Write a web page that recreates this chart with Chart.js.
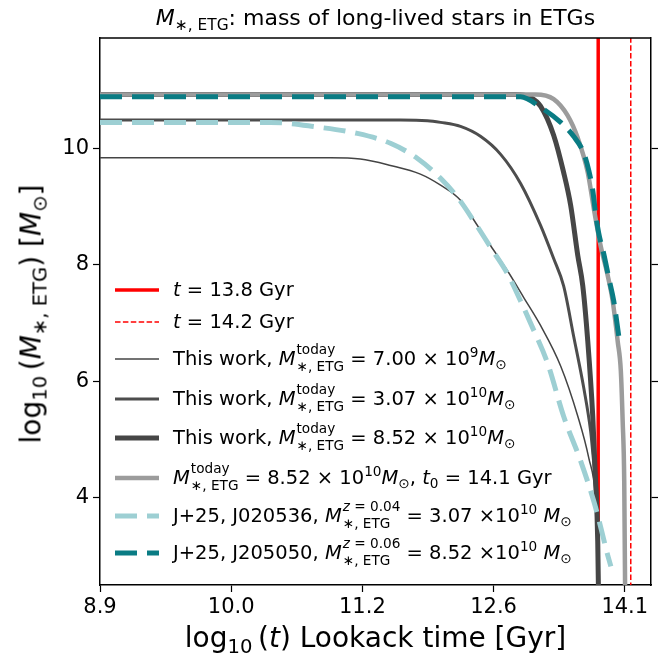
<!DOCTYPE html>
<html>
<head>
<meta charset="utf-8">
<script src="https://cdn.jsdelivr.net/npm/chart.js@4.4.0/dist/chart.umd.min.js"></script>
<style>
  body { margin: 0; background: #fff; font-family: "DejaVu Sans", sans-serif; color: #000; }
  #wrap { position: relative; width: 670px; height: 661px; }
  #chart { position: absolute; left: 0; top: 0; }
  .txt { position: absolute; white-space: nowrap; line-height: normal; }
  i { font-style: italic; }
  .sb { font-size: 0.7em; vertical-align: -0.3em; line-height: 0; }
  .sp { font-size: 0.7em; vertical-align: 0.6em; line-height: 0; }
  .ss { display: inline-flex; flex-direction: column; font-size: 0.7em; line-height: 1.2; vertical-align: 0.8em; margin-left: 1px; }
  .th { margin-left: 0.2em; }
  #title { left: 100px; width: 551px; text-align: center; top: 5px; font-size: 22px; }
  #xtitle { left: 100px; width: 551px; text-align: center; top: 621px; font-size: 28px; }
  #ytitle { left: 31px; top: 314px; font-size: 28px; transform: translate(-50%, -50%) rotate(-90deg); }
  .leg { position: absolute; left: 173px; font-size: 19.5px; line-height: 40px; white-space: nowrap; }
</style>
</head>
<body>
<div id="wrap">
  <canvas id="chart" width="670" height="661"></canvas>
  <div class="txt" id="title"><i>M</i><span class="sb">∗, ETG</span>: mass of long-lived stars in ETGs</div>
  <div class="txt" id="xtitle">log<span class="sb">10</span><span class="th"></span>(<i>t</i>) Lookack time [Gyr]</div>
  <div class="txt" id="ytitle">log<span class="sb">10</span><span class="th"></span>(<i>M</i><span class="sb">∗, ETG</span>) [<i>M</i><span class="sb">⊙</span>]</div>
</div>
<script>
// axis ticks (x is log10 of lookback time)
const xTickLogs = [0.95, 1.0, 1.05, 1.1, 1.15];
const xTickLabels = ["8.9", "10.0", "11.2", "12.6", "14.1"];
const yTicks = [4, 6, 8, 10];

// vertical markers, Gyr
const markerAges = [13.8, 14.2];

// This work, M_today = 7.00e9
const lowT = [0.95, 1.0378, 1.0492, 1.0607, 1.0721, 1.0798, 1.0874, 1.0931, 1.0989, 1.1053, 1.1115, 1.1179, 1.1256, 1.1321, 1.1363, 1.1389, 1.1397, 1.1401];
const lowM = [9.84, 9.84, 9.82, 9.71, 9.56, 9.37, 9.11, 8.73, 8.33, 7.90, 7.44, 6.96, 6.26, 5.40, 4.68, 3.99, 3.25, 2.0];

// This work, M_today = 3.07e10
const midT = [0.95, 1.0645, 1.0748, 1.0798, 1.0874, 1.0950, 1.1027, 1.1103, 1.1179, 1.1229, 1.1267, 1.1305, 1.1344, 1.1370, 1.1385, 1.1397, 1.1401];
const midM = [10.49, 10.49, 10.48, 10.45, 10.38, 10.21, 9.90, 9.40, 8.68, 8.11, 7.64, 6.78, 5.88, 5.14, 4.45, 3.68, 2.0];

// This work, M_today = 8.52e10
const highT = [0.95, 1.1084, 1.1141, 1.1179, 1.1229, 1.1267, 1.1294, 1.1321, 1.1340, 1.1359, 1.1378, 1.1389, 1.1397, 1.1401];
const highM = [10.93, 10.93, 10.88, 10.73, 10.23, 9.59, 9.02, 8.16, 7.64, 6.69, 5.40, 4.28, 3.25, 2.0];

// M_today = 8.52e10, t0 = 14.1 Gyr
const shiftT = [0.95, 1.1160, 1.1229, 1.1282, 1.1321, 1.1359, 1.1382, 1.1408, 1.1435, 1.1454, 1.1473, 1.1485, 1.1492, 1.1498, 1.1502];
const shiftM = [10.93, 10.93, 10.85, 10.57, 10.18, 9.59, 8.97, 8.33, 7.82, 7.38, 6.69, 6.18, 5.32, 4.28, 2.0];

// J+25, J020536
const j0205T = [0.95, 1.0149, 1.0328, 1.0481, 1.0607, 1.0710, 1.0798, 1.0863, 1.0924, 1.0989, 1.1053, 1.1103, 1.1141, 1.1206, 1.1267, 1.1332, 1.1382, 1.1408, 1.1431, 1.1447];
const j0205M = [10.45, 10.45, 10.37, 10.26, 10.09, 9.83, 9.49, 9.16, 8.76, 8.30, 7.85, 7.38, 7.00, 6.31, 5.40, 4.63, 3.94, 3.50, 3.08, 2.82];

// J+25, J205050
const j2050T = [0.95, 1.1103, 1.1179, 1.1256, 1.1305, 1.1344, 1.1363, 1.1378, 1.1389, 1.1401, 1.1420, 1.1439, 1.1458, 1.1477];
const j2050M = [10.89, 10.89, 10.71, 10.45, 10.21, 9.92, 9.62, 9.28, 8.88, 8.54, 8.19, 7.78, 7.38, 6.78];

const xMin = 0.95, xMax = 1.16, yMin = 2.5, yMax = 11.9;

const pts = (xs, ys) => xs.map((x, i) => ({ x: x, y: ys[i] }));
const vline = age => [{ x: Math.log10(age), y: yMin - 1 }, { x: Math.log10(age), y: yMax + 1 }];

const curve = (xs, ys, color, width, dash, order) => ({
    data: pts(xs, ys),
    borderColor: color,
    borderWidth: width,
    borderDash: dash,
    pointRadius: 0,
    cubicInterpolationMode: 'monotone',
    clip: 0,
    order: order
});

const datasets = [
    { data: vline(markerAges[0]), borderColor: '#ff0000', borderWidth: 3.5, borderDash: [], pointRadius: 0, clip: 0, order: 10 },
    { data: vline(markerAges[1]), borderColor: '#ff0000', borderWidth: 1.5, borderDash: [5.5, 2.4], pointRadius: 0, clip: 0, order: 9 },
    curve(lowT, lowM, '#444444', 1.5, [], 8),
    curve(midT, midM, '#4d4d4d', 3, [], 7),
    curve(highT, highM, '#464646', 5, [], 6),
    curve(shiftT, shiftM, '#9c9c9c', 4.5, [], 5),
    curve(j0205T, j0205M, '#9dcfd3', 5, [22, 10], 4),
    curve(j2050T, j2050M, '#0a7c84', 5, [22, 10], 3)
];

// legend rows (centre y in px) and their html text
const legendY = [290, 322, 359, 399, 438, 478, 516, 553];
const mToday = '<i>M</i><span class="ss"><span>today</span><span>∗, ETG</span></span>';
const mSun = '<i>M</i><span class="sb">⊙</span>';
const legendText = [
    '<i>t</i> = 13.8 Gyr',
    '<i>t</i> = 14.2 Gyr',
    'This work, ' + mToday + ' = 7.00 × 10<span class="sp">9</span>' + mSun,
    'This work, ' + mToday + ' = 3.07 × 10<span class="sp">10</span>' + mSun,
    'This work, ' + mToday + ' = 8.52 × 10<span class="sp">10</span>' + mSun,
    mToday + ' = 8.52 × 10<span class="sp">10</span>' + mSun + ', <i>t</i><span class="sb">0</span> = 14.1 Gyr',
    'J+25, J020536, <i>M</i><span class="ss"><span><i>z</i> = 0.04</span><span>∗, ETG</span></span> = 3.07 ×10<span class="sp">10</span> ' + mSun,
    'J+25, J205050, <i>M</i><span class="ss"><span><i>z</i> = 0.06</span><span>∗, ETG</span></span> = 8.52 ×10<span class="sp">10</span> ' + mSun
];

const wrap = document.getElementById('wrap');
legendText.forEach((html, i) => {
    const d = document.createElement('div');
    d.className = 'leg';
    d.style.top = (legendY[i] - 19.75) + 'px';
    d.innerHTML = html;
    wrap.appendChild(d);
});

/* frame + legend handles */
const extras = {
    id: 'extras',
    afterDraw(chart) {
        const c = chart.ctx, a = chart.chartArea;
        c.save();
        c.strokeStyle = '#000';
        c.lineWidth = 1.5;
        c.beginPath();
        c.moveTo(a.left, a.top);
        c.lineTo(a.right, a.top);
        c.stroke();
        chart.data.datasets.forEach((ds, i) => {
            c.strokeStyle = ds.borderColor;
            c.lineWidth = ds.borderWidth;
            c.setLineDash(ds.borderDash || []);
            c.beginPath();
            c.moveTo(115, legendY[i]);
            c.lineTo(159, legendY[i]);
            c.stroke();
        });
        c.restore();
    }
};

Chart.defaults.font.family = '"DejaVu Sans", sans-serif';
Chart.defaults.color = '#000';

new Chart(document.getElementById('chart'), {
    type: 'line',
    data: { datasets: datasets },
    options: {
        responsive: false,
        animation: false,
        layout: { padding: { top: 38, right: 0, bottom: 0, left: 0 } },
        plugins: { legend: { display: false }, tooltip: { enabled: false } },
        scales: {
            x: {
                type: 'linear', min: xMin, max: xMax,
                afterBuildTicks: s => { s.ticks = xTickLogs.map(v => ({ value: v })); },
                afterFit: s => { s.height = 76; },
                ticks: {
                    callback: v => xTickLabels[xTickLogs.findIndex(t => Math.abs(t - v) < 1e-6)],
                    font: { size: 21 }, maxRotation: 0, padding: 3
                },
                grid: { drawOnChartArea: false, tickLength: 7, tickColor: '#000', tickWidth: 1.2 },
                border: { color: '#000', width: 1.5 }
            },
            y: {
                type: 'linear', min: yMin, max: yMax,
                afterBuildTicks: s => { s.ticks = yTicks.map(v => ({ value: v })); },
                afterFit: s => { s.width = 100; },
                ticks: { font: { size: 21 }, padding: 4 },
                grid: { drawOnChartArea: false, tickLength: 7, tickColor: '#000', tickWidth: 1.2 },
                border: { color: '#000', width: 1.5 }
            },
            y2: {
                type: 'linear', position: 'right', min: yMin, max: yMax,
                afterBuildTicks: s => { s.ticks = yTicks.map(v => ({ value: v })); },
                afterFit: s => { s.width = 19; },
                ticks: { display: false },
                grid: { drawOnChartArea: false, tickLength: 7, tickColor: '#000', tickWidth: 1.2 },
                border: { color: '#000', width: 1.5 }
            }
        }
    },
    plugins: [extras]
});
</script>
</body>
</html>
